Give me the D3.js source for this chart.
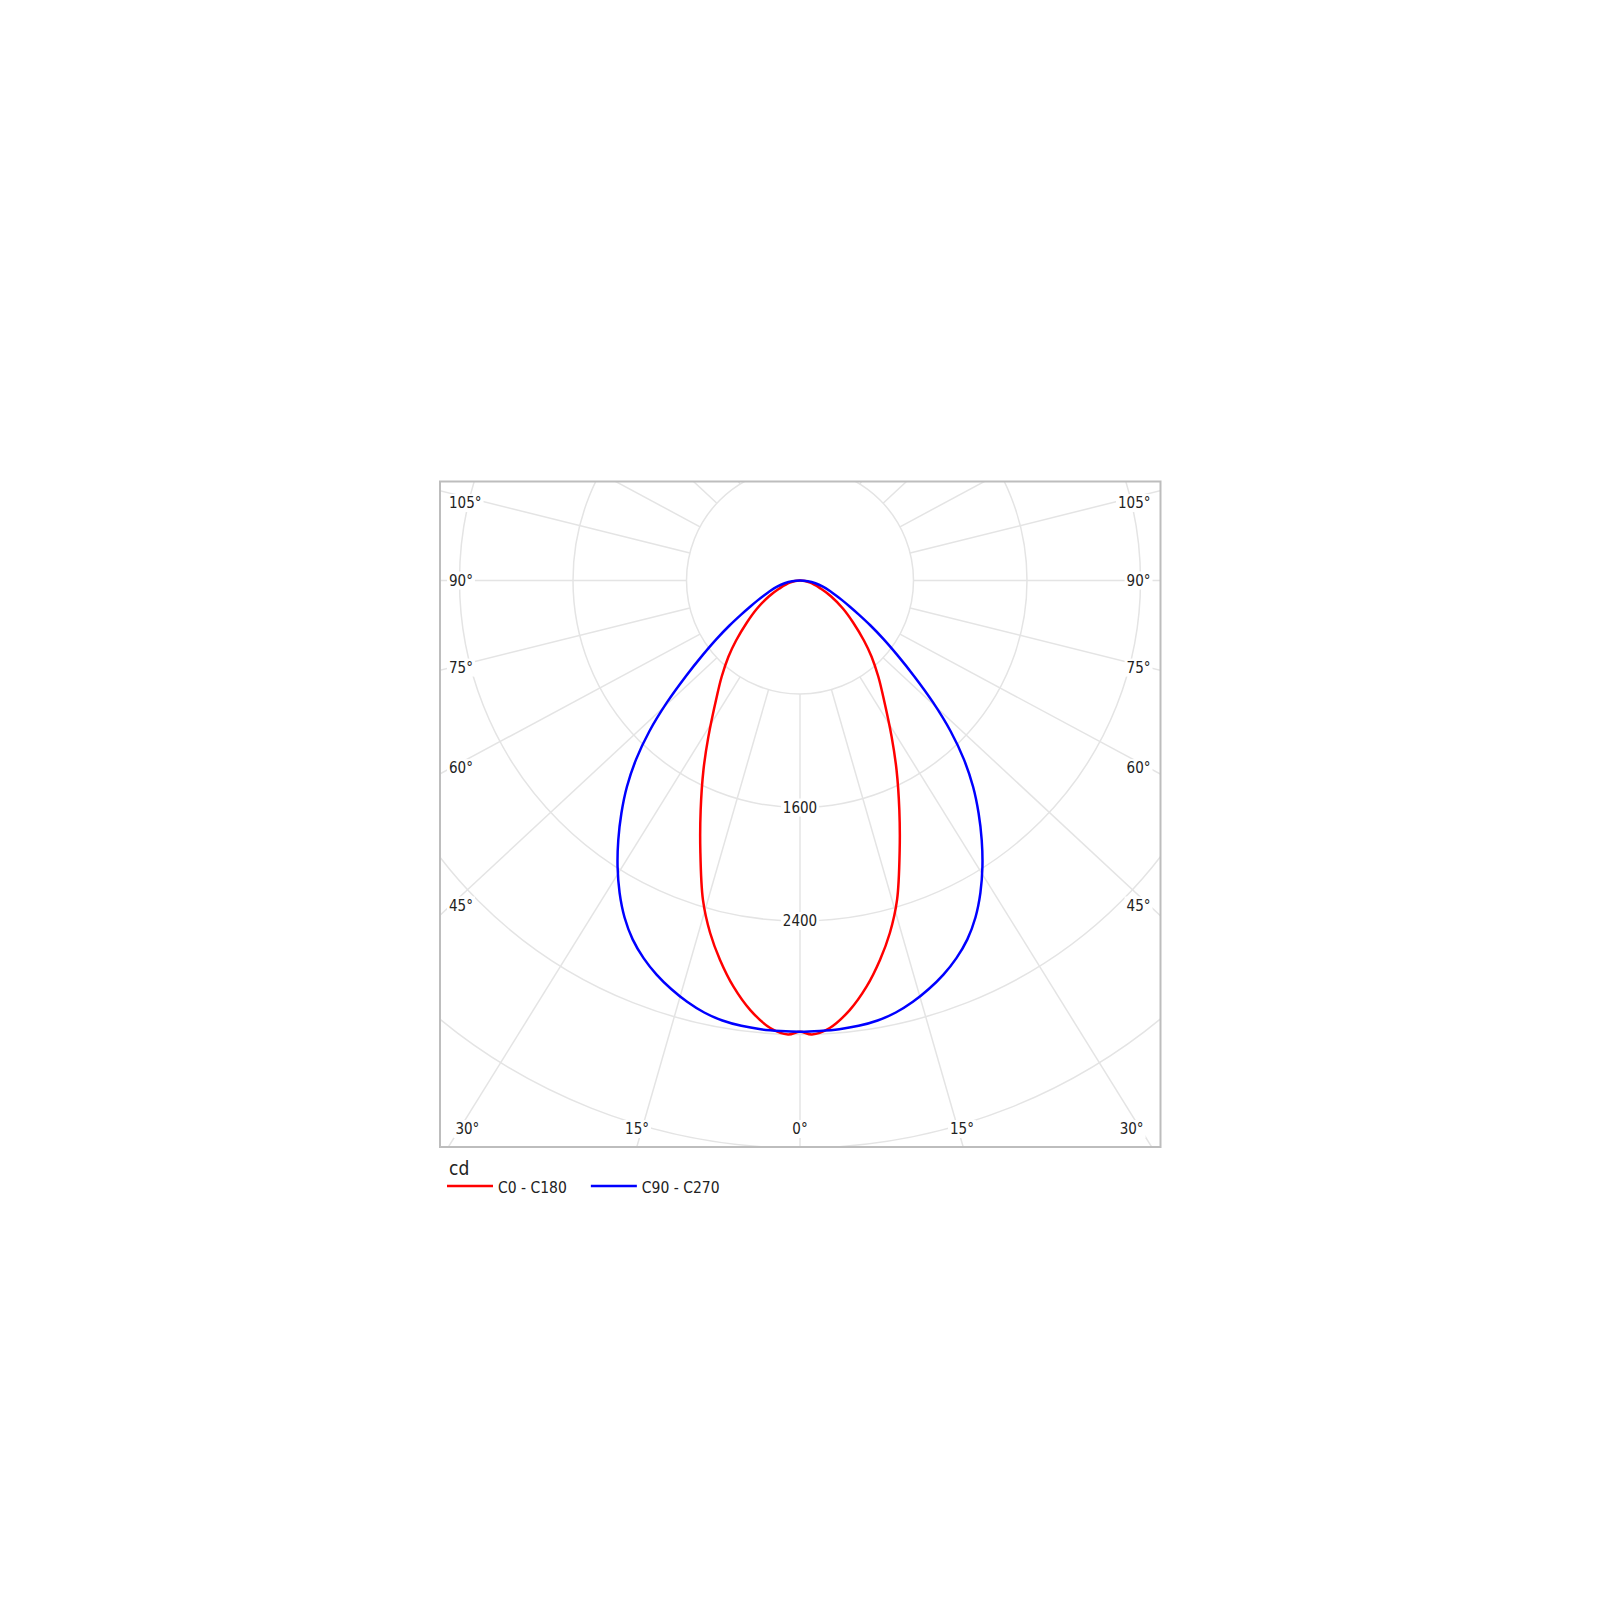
<!DOCTYPE html>
<html>
<head>
<meta charset="utf-8">
<script src="https://cdn.jsdelivr.net/npm/d3@7"></script>
<style>
  html, body { margin: 0; padding: 0; background: #ffffff; }
  svg { display: block; }
  text { font-family: "DejaVu Sans Condensed", "DejaVu Sans", sans-serif; fill: #222; }
</style>
</head>
<body>
<svg id="chart" width="1600" height="1600"></svg>
<script>
// ---------------- data ----------------
const unit = "cd";
const seriesNames = ["C0 - C180", "C90 - C270"];
const seriesColors = ["#ff0000", "#0000ff"];
// gamma angles (degrees from nadir) and luminous intensity (cd)
const gammaC0 = [0, 1.5, 3.8, 6.6, 9.3, 11.9, 14.3, 16.9, 20.3, 23.4, 27, 30.4, 35.6, 39.2, 43.2, 46.8, 51.7, 56.9, 62.9, 68.8, 78.9, 90];
const valuesC0 = [3180, 3201, 3161, 3048, 2901, 2733, 2564, 2353, 2025, 1763, 1499, 1276, 1008, 873, 737, 618, 477, 361, 247, 156, 73, 0];
const gammaC90 = [0, 2.5, 5, 7.5, 10, 12.5, 15, 17.5, 20, 22.5, 25, 27.5, 30, 32.5, 35, 37.5, 40, 42.5, 45, 47.5, 50, 52.5, 55, 57.5, 60, 62.5, 65, 67.5, 70, 75, 80, 85, 90];
const valuesC90 = [3180, 3178, 3175, 3166, 3149, 3119, 3074, 3019, 2956, 2881, 2791, 2678, 2543, 2393, 2233, 2068, 1898, 1710, 1500, 1272, 1052, 867, 717, 587, 477, 392, 327, 275, 232, 167, 110, 55, 0];
const ringValues = [800, 1600, 2400, 3200, 4000];
const ringLabels = [1600, 2400];
const spokeAngles = d3.range(0, 181, 15);
const maxValue = 4000;

// ---------------- layout ----------------
const frame = { left: 440, top: 481.5, right: 1160.5, bottom: 1147 };
const cx = 800, cy = 580.5;
const outerRadius = 567.5;
const spokeSquash = 0.93;
const gridColor = "#e4e4e4";

const svg = d3.select("#chart");
const r = d3.scaleLinear().domain([0, maxValue]).range([0, outerRadius]);
const rad = d => d * Math.PI / 180;

svg.append("defs").append("clipPath").attr("id", "frameClip")
  .append("rect")
  .attr("x", frame.left).attr("y", frame.top)
  .attr("width", frame.right - frame.left).attr("height", frame.bottom - frame.top);

const plot = svg.append("g").attr("clip-path", "url(#frameClip)");
const g = plot.append("g").attr("transform", `translate(${cx},${cy})`);

// rings
g.selectAll("circle.ring").data(ringValues).join("circle")
  .attr("class", "ring")
  .attr("r", d => r(d))
  .attr("fill", "none")
  .attr("stroke", gridColor)
  .attr("stroke-width", 1.5);

// spokes (both sides), starting at innermost ring
const spokes = [];
spokeAngles.forEach(a => {
  [1, -1].forEach(s => {
    if ((a === 0 || a === 180) && s === -1) return;
    spokes.push({ a, s });
  });
});
const far = 2000;
g.selectAll("line.spoke").data(spokes).join("line")
  .attr("class", "spoke")
  .each(function (d) {
    let dx = d.s * Math.sin(rad(d.a));
    let dy = spokeSquash * Math.cos(rad(d.a));
    const len = Math.hypot(dx, dy);
    dx /= len; dy /= len;
    const r0 = r(ringValues[0]);
    d3.select(this)
      .attr("x1", dx * r0).attr("y1", dy * r0)
      .attr("x2", dx * far).attr("y2", dy * far);
  })
  .attr("stroke", gridColor)
  .attr("stroke-width", 1.5);

// ---------------- labels ----------------
const labelLayer = svg.append("g");
function addLabel(x, y, txt, anchor, size) {
  const grp = labelLayer.append("g");
  const bg = grp.append("rect").attr("fill", "#ffffff");
  const t = grp.append("text")
    .attr("x", x).attr("y", y)
    .attr("text-anchor", anchor)
    .attr("dominant-baseline", "central")
    .attr("font-size", size)
    .text(txt);
  const bb = t.node().getBBox();
  bg.attr("x", bb.x - 2).attr("y", bb.y).attr("width", bb.width + 4).attr("height", bb.height);
}

// ring value labels along nadir
ringLabels.forEach(v => addLabel(cx, cy + r(v), String(v), "middle", 15));

// angle labels where spokes meet side or bottom edges
const sideInset = 35, sideTextPad = 9, bottomLabelY = frame.bottom - 18;
spokeAngles.forEach(a => {
  const sa = Math.sin(rad(a)), ca = Math.cos(rad(a));
  const tSide = sa > 1e-9 ? (cx - frame.left) / sa : Infinity;
  const tBottom = ca > 1e-9 ? (frame.bottom - cy) / ca : Infinity;
  const tTop = ca < -1e-9 ? (cy - frame.top) / -ca : Infinity;
  const tMin = Math.min(tSide, tBottom, tTop);
  const txt = a + "\u00b0";
  if (tMin === tSide) {
    let y = cy + (cx - frame.left - sideInset) * ca / sa;
    y = Math.max(y, frame.top + 21.5);
    addLabel(frame.left + sideTextPad, y, txt, "start", 15);
    addLabel(frame.right - sideTextPad - 1, y, txt, "end", 15);
  } else if (tMin === tBottom) {
    const off = (bottomLabelY - cy) * sa / ca;
    if (a === 0) {
      addLabel(cx, bottomLabelY, txt, "middle", 15);
    } else {
      addLabel(cx - off - 4, bottomLabelY, txt, "end", 15);
      addLabel(cx + off + 3, bottomLabelY, txt, "start", 15);
    }
  }
});

// ---------------- curves ----------------
function closedPoints(gam, vals) {
  const pts = [];
  for (let i = gam.length - 1; i >= 0; i--) pts.push([Math.PI - rad(gam[i]), r(vals[i])]);
  for (let i = 1; i < gam.length - 1; i++) pts.push([Math.PI + rad(gam[i]), r(vals[i])]);
  return pts;
}
const radial = d3.lineRadial()
  .angle(d => d[0]).radius(d => d[1])
  .curve(d3.curveCatmullRomClosed.alpha(0.5));

const curveLayer = svg.append("g").attr("clip-path", "url(#frameClip)")
  .append("g").attr("transform", `translate(${cx},${cy})`);
const curveData = [closedPoints(gammaC0, valuesC0), closedPoints(gammaC90, valuesC90)];
curveLayer.selectAll("path.curve").data(curveData).join("path")
  .attr("class", "curve")
  .attr("d", radial)
  .attr("fill", "none")
  .attr("stroke", (d, i) => seriesColors[i])
  .attr("stroke-width", 2.5)
  .attr("stroke-linejoin", "round");

// frame
svg.append("rect")
  .attr("x", frame.left).attr("y", frame.top)
  .attr("width", frame.right - frame.left).attr("height", frame.bottom - frame.top)
  .attr("fill", "none").attr("stroke", "#bdbdbd").attr("stroke-width", 2);

// ---------------- legend ----------------
svg.append("text")
  .attr("x", frame.left + 9).attr("y", frame.bottom + 28)
  .attr("font-size", 19)
  .text(unit);

let lx = frame.left + 7;
const ly = frame.bottom + 39;
seriesNames.forEach((name, i) => {
  svg.append("line")
    .attr("x1", lx).attr("x2", lx + 46).attr("y1", ly).attr("y2", ly)
    .attr("stroke", seriesColors[i]).attr("stroke-width", 2.5);
  const t = svg.append("text")
    .attr("x", lx + 51).attr("y", ly + 2)
    .attr("dominant-baseline", "central")
    .attr("font-size", 15.5)
    .text(name);
  lx = lx + 51 + t.node().getComputedTextLength() + 24;
});
</script>
</body>
</html>
